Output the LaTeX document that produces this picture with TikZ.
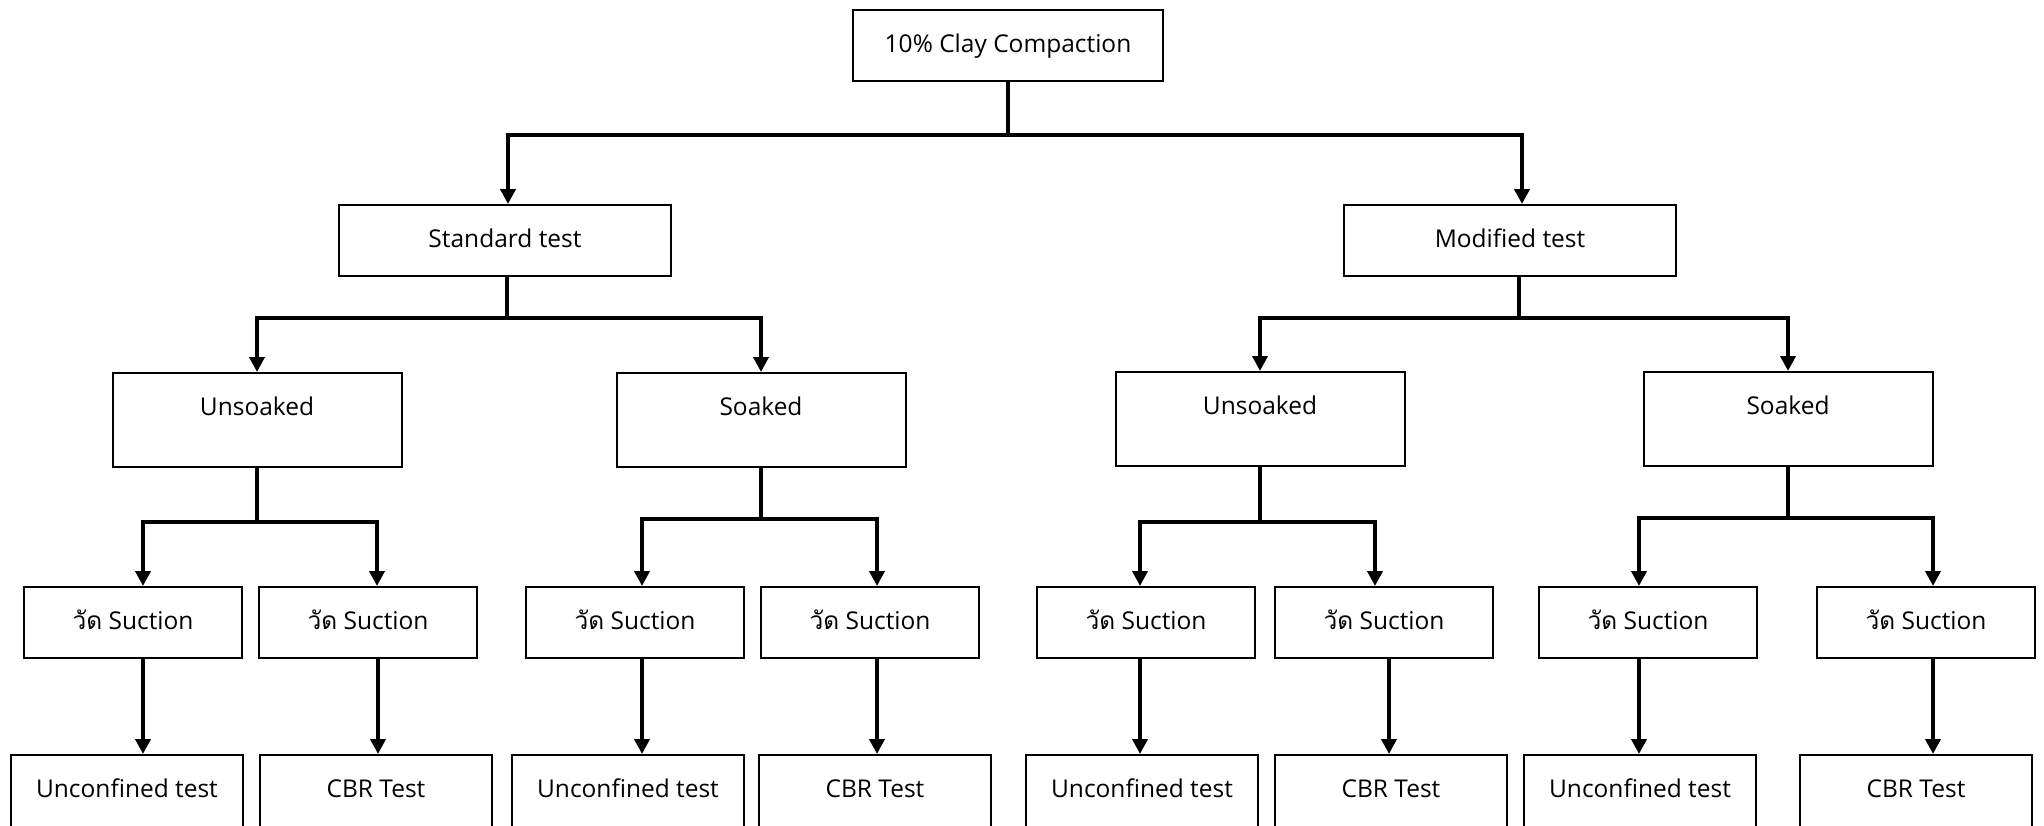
\documentclass[tikz,border=0pt]{standalone}
\usepackage{fontspec}
\setmainfont{Open Sans}
\newfontfamily\thaifont[Script=Thai]{Loma}
\usetikzlibrary{positioning,arrows.meta}

\begin{document}
\begin{tikzpicture}[
  x=1pt, y=-1pt,
  box/.style={draw,line width=2pt,inner xsep=0pt,inner ysep=0pt,
    text height=42pt,text depth=29pt,anchor=north},
  tall/.style={box,text depth=52pt},
  link/.style={line width=4pt},
  arr/.style={link,-{Triangle[width=15pt,length=15pt]}},
  font=\fontsize{24.5}{29}\selectfont
]

\clip (0,0) rectangle (2044,825);

% top and test type
\node[box,minimum width=310pt] (root) at (1008,9) {10\% Clay Compaction};
\node[box,minimum width=332pt] (std) at (505,204) {Standard test};
\node[box,minimum width=332pt] (mod) at (1510,204) {Modified test};

% soaking
\node[tall,minimum width=289pt] (u1) at (257,372) {Unsoaked};
\node[tall,minimum width=289pt] (s1) at (761,372) {Soaked};
\node[tall,minimum width=289pt] (u2) at (1260,371) {Unsoaked};
\node[tall,minimum width=289pt] (s2) at (1788,371) {Soaked};

% suction
\foreach \i/\x in {1/133,2/368,3/635,4/870,5/1146,6/1384,7/1648,8/1926}
  \node[box,minimum width=218pt] (a\i) at (\x,586) {{\thaifont วัด} Suction};

% tests (cut at the bottom)
\foreach \i/\x/\t in {1/127/Unconfined test,2/376/CBR Test,3/628/Unconfined test,4/875/CBR Test,
                      5/1142/Unconfined test,6/1391/CBR Test,7/1640/Unconfined test,8/1916/CBR Test}
  \node[box,text depth=45pt,minimum width=232pt] (b\i) at (\x,754) {\t};

% branches
\coordinate (t0) at (1008,135);
\draw[link] (root) -- (t0);
\draw[arr] (t0) -| ([xshift=3pt]std.north);
\draw[arr] (t0) -| ([xshift=12pt]mod.north);

\coordinate (t1) at (507,318);
\coordinate (t2) at (1519,318);
\draw[link] (std.south -| t1) -- (t1);
\draw[link] (mod.south -| t2) -- (t2);
\draw[arr] (t1) -| (u1.north);
\draw[arr] (t1) -| (s1.north);
\draw[arr] (t2) -| (u2.north);
\draw[arr] (t2) -| (s2.north);

\foreach \i/\x/\y in {1/143/522,2/377/522,3/642/519,4/877/519,5/1140/522,6/1375/522,7/1639/518,8/1933/518}
  \coordinate (k\i) at (\x,\y);

\foreach \p/\i/\j in {u1/1/2,s1/3/4,u2/5/6,s2/7/8} {
  \draw[link] (\p) -- (\p |- k\i);
  \draw[arr] (\p |- k\i) -| (k\i |- a\i.north);
  \draw[arr] (\p |- k\i) -| (k\j |- a\j.north);
}

\foreach \i/\x in {1/143,2/378,3/642,4/877,5/1140,6/1389,7/1639,8/1933} {
  \coordinate (m\i) at (\x,700);
  \draw[arr] (a\i.south -| m\i) -- (b\i.north -| m\i);
}

\end{tikzpicture}
\end{document}
